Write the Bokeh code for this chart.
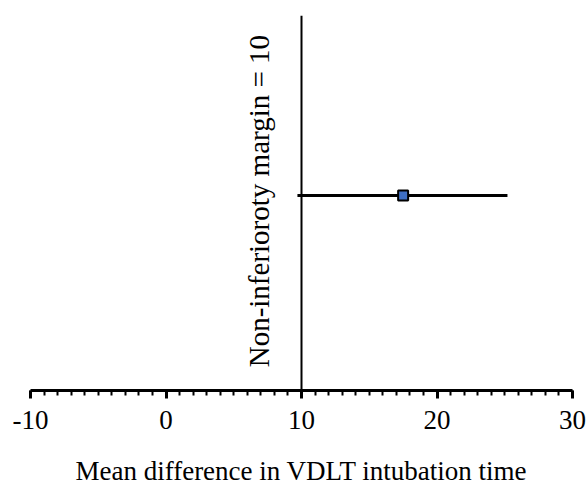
import math
from bokeh.plotting import figure
from bokeh.models import FixedTicker, Span, ColumnDataSource, Range1d
from bokeh.core.properties import value
from bokeh.embed import file_html
from bokeh.resources import INLINE

# data
estimate = [17.5]
lower = [9.7]
upper = [25.2]
row_y = [0.52]
margin = 10
margin_label = "Non-inferioroty margin = 10"
major_ticks = [-10, 0, 10, 20, 30]
major_labels = ["-10", "0", "10", "20", "30"]
minor_ticks = list(range(-10, 31))
x_label = "Mean difference in VDLT intubation time"

FONT = "Liberation Serif"

p = figure(width=587, height=488, output_backend="svg", toolbar_location=None,
           x_range=Range1d(-10, 30), y_range=Range1d(0, 1),
           min_border_left=30, min_border_right=15, min_border_top=15, min_border_bottom=93)
p.outline_line_color = None
p.grid.visible = False
p.yaxis.visible = False

xa = p.xaxis[0]
xa.ticker = FixedTicker(ticks=major_ticks, minor_ticks=minor_ticks)
xa.major_label_overrides = {t: l for t, l in zip(major_ticks, major_labels)}
xa.axis_line_width = 3
xa.axis_line_color = "black"
xa.major_tick_line_width = 3
xa.major_tick_in = 0
xa.major_tick_out = 8
xa.minor_tick_line_width = 2
xa.minor_tick_in = 0
xa.minor_tick_out = 5
xa.major_label_text_font = FONT
xa.major_label_text_font_size = "27px"
xa.major_label_text_color = "black"
xa.major_label_standoff = 12
xa.axis_label = x_label
xa.axis_label_text_font = FONT
xa.axis_label_text_font_size = "27px"
xa.axis_label_text_font_style = "normal"
xa.axis_label_text_color = "black"
xa.axis_label_standoff = 24

p.add_layout(Span(location=margin, dimension="height", line_color="black", line_width=2))

src = ColumnDataSource(dict(y=row_y, est=estimate, lo=lower, hi=upper))
p.segment(x0="lo", x1="hi", y0="y", y1="y", source=src, line_color="black", line_width=3)
p.scatter(x="est", y="y", source=src, marker="square", size=10,
          fill_color="#3F6FC4", line_color="black", line_width=2)

p.text(x=[6.9], y=[0.505], text=[margin_label], angle=math.pi / 2,
       text_font=value(FONT), text_font_size="29px", text_align="center",
       text_baseline="middle", text_color="black")

open("out.html", "w").write(file_html(p, INLINE))
